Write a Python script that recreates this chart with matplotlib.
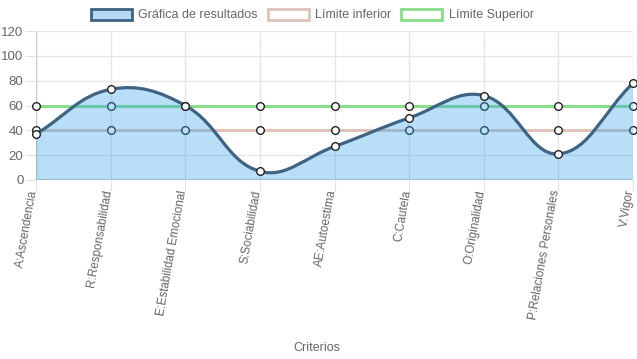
import numpy as np
import matplotlib
matplotlib.use("Agg")
import matplotlib.pyplot as plt
import matplotlib.transforms as mtransforms
from matplotlib.patches import Patch
from matplotlib.path import Path
from matplotlib.patches import PathPatch

criterios = ['A:Ascendencia', 'R:Responsabilidad', 'E:Estabilidad Emocional',
             'S:Sociabilidad', 'AE:Autoestima', 'C:Cautela', 'O:Originalidad',
             'P:Relaciones Personales', 'V:Vigor']
resultados = [37, 73, 60, 7, 27, 50, 68, 21, 78]
limite_inferior = [40, 40, 40, 40, 40, 40, 40, 40, 40]
limite_superior = [60, 60, 60, 60, 60, 60, 60, 60, 60]

plt.rcParams['font.family'] = ['Liberation Sans', 'DejaVu Sans']

fig = plt.figure(figsize=(6.37, 3.59), dpi=100)
ax = fig.add_axes([36 / 637, 1 - 180 / 359, (633 - 36) / 637, (180 - 31) / 359])
x = np.arange(len(criterios))
ax.set_xlim(0, len(criterios) - 1)
ax.set_ylim(0, 120)

blue_line = '#3e6383'
blue_fill = (54 / 255, 162 / 255, 235 / 255, 0.35)
low_col = '#dfc3b8'
up_col = '#88dd88'


def spline_path(xs, ys, tension=0.4):
    # Chart.js style cubic spline, computed in pixel space
    pts = ax.transData.transform(np.column_stack([xs, ys]))
    n = len(pts)
    verts, codes = [tuple(pts[0])], [Path.MOVETO]
    cps = []
    for i in range(n):
        prev = pts[max(i - 1, 0)]
        cur = pts[i]
        nxt = pts[min(i + 1, n - 1)]
        d01 = np.hypot(*(cur - prev))
        d12 = np.hypot(*(nxt - cur))
        tot = d01 + d12
        s01 = d01 / tot if tot else 0
        s12 = d12 / tot if tot else 0
        cp_prev = cur - tension * s01 * (nxt - prev)
        cp_next = cur + tension * s12 * (nxt - prev)
        cps.append((cp_prev, cp_next))
    for i in range(1, n):
        verts += [tuple(cps[i - 1][1]), tuple(cps[i][0]), tuple(pts[i])]
        codes += [Path.CURVE4] * 3
    inv = ax.transData.inverted()
    return inv.transform(np.array(verts)), codes


# grid
for xi in x:
    ax.axvline(xi, color='#e6e6e6', lw=1, zorder=0)
for yv in range(20, 121, 20):
    ax.axhline(yv, color='#e6e6e6', lw=1, zorder=0)
ax.axhline(0, color='#cccccc', lw=1.5, zorder=0)
ax.axvline(0, color='#cccccc', lw=1, zorder=0)

# limit lines
ax.plot(x, limite_superior, color=up_col, lw=2.2, zorder=2, marker='o', ms=5.5,
        mfc='white', mec='#222222', mew=1, clip_on=False)
ax.plot(x, limite_inferior, color=low_col, lw=2.2, zorder=2, marker='o', ms=5.5,
        mfc='white', mec='#222222', mew=1, clip_on=False)

# results area + curve
verts, codes = spline_path(x, resultados)
fill_verts = np.vstack([verts, [[x[-1], 0], [x[0], 0], verts[0]]])
fill_codes = codes + [Path.LINETO, Path.LINETO, Path.CLOSEPOLY]
ax.add_patch(PathPatch(Path(fill_verts, fill_codes), facecolor=blue_fill,
                       edgecolor='none', zorder=3))
ax.add_patch(PathPatch(Path(verts, codes), facecolor='none', edgecolor=blue_line,
                       lw=2.3, zorder=4))
ax.plot(x, resultados, ls='none', marker='o', ms=5.5, mfc='white', mec='#222222',
        mew=1, zorder=5, clip_on=False)

for s in ax.spines.values():
    s.set_visible(False)
ax.set_yticks(range(0, 121, 20))
ax.set_xticks(x)
ax.set_xticklabels([])
# rotated category labels, nudged a little left of the tick
lbl_trans = ax.get_xaxis_transform() + mtransforms.ScaledTranslation(-2 / 100, -10 / 100, fig.dpi_scale_trans)
for xi, name in zip(x, criterios):
    ax.text(xi, 0, name, transform=lbl_trans, rotation=80, ha='right', va='center',
            rotation_mode='anchor', fontsize=8.5, color='#666666')
ax.tick_params(axis='y', length=8, color='#e0e0e0', labelsize=9.5,
               labelcolor='#666666', pad=1)
ax.tick_params(axis='x', length=8, color='#e0e0e0', pad=2)
ax.set_xlabel('Criterios', fontsize=9, color='#666666', labelpad=0)
ax.xaxis.set_label_coords(0.47, -1.09)

handles = [Patch(facecolor='#b7d8f5', edgecolor=blue_line, lw=2, label='Gráfica de resultados'),
           Patch(facecolor='white', edgecolor=low_col, lw=2, label='Límite inferior'),
           Patch(facecolor='white', edgecolor=up_col, lw=2, label='Límite Superior')]
fig.legend(handles=handles, loc='center', bbox_to_anchor=(0.49, 1 - 15 / 359), ncol=3,
           frameon=False, fontsize=9, handlelength=3.3, handleheight=1.0,
           columnspacing=0.8, handletextpad=0.5, labelcolor='#666666')

fig.savefig('out.png', dpi=100)
